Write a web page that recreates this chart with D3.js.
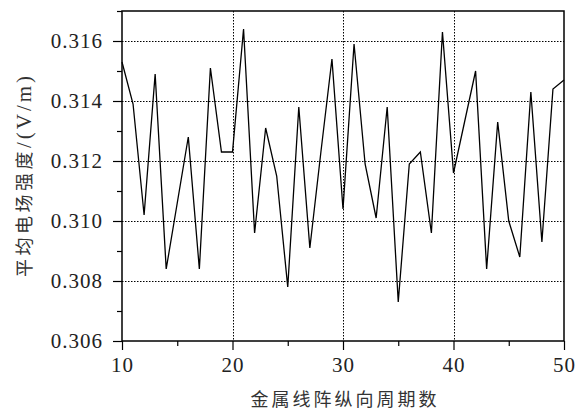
<!DOCTYPE html>
<html>
<head>
<meta charset="utf-8">
<script src="https://cdn.jsdelivr.net/npm/d3@7"></script>
<style>
  body { margin: 0; background: #fff; }
  svg { display: block; }
</style>
</head>
<body>
<script>
// period count along the wire array
var periods = d3.range(10, 51);
// mean electric field (V/m)
var fieldValues = [
  0.3153, 0.3139, 0.3102, 0.3149, 0.3084, 0.3106, 0.3128, 0.3084, 0.3151, 0.3123,
  0.3123, 0.3164, 0.3096, 0.3131, 0.3115, 0.3078, 0.3138, 0.3091, 0.3123, 0.3154,
  0.3104, 0.3159, 0.3119, 0.3101, 0.3138, 0.3073, 0.3119, 0.3123, 0.3096, 0.3163,
  0.3116, 0.3133, 0.3150, 0.3084, 0.3133, 0.3100, 0.3088, 0.3143, 0.3093, 0.3144,
  0.3147
];
var xTicks = [10, 20, 30, 40, 50];
var yTicks = [0.306, 0.308, 0.310, 0.312, 0.314, 0.316];
var xLabel = "金属线阵纵向周期数";
var yLabelCjk = "平均电场强度";
var yLabelUnit = "/(V/m)";

var width = 586, height = 412;
var plotLeft = 122, plotRight = 564, plotTop = 11, plotBottom = 341;

var serif = "'Liberation Serif', 'DejaVu Serif', serif";
var cjk = "'Noto Sans CJK SC', sans-serif";

var svg = d3.select("body").append("svg")
  .attr("width", width)
  .attr("height", height);

var x = d3.scaleLinear().domain([10, 50]).range([plotLeft, plotRight]);
var y = d3.scaleLinear().domain([0.306, 0.317]).range([plotBottom, plotTop]);

// dotted grid
var grid = svg.append("g").attr("class", "grid")
  .attr("stroke", "#000").attr("stroke-width", 1).attr("stroke-dasharray", "1.5,1.5");
grid.selectAll("line.h").data(yTicks.slice(1)).enter().append("line")
  .attr("x1", plotLeft).attr("x2", plotRight)
  .attr("y1", function(d) { return Math.round(y(d)) + 0.5; })
  .attr("y2", function(d) { return Math.round(y(d)) + 0.5; });
grid.selectAll("line.v").data([20, 30, 40]).enter().append("line")
  .attr("y1", plotTop).attr("y2", plotBottom)
  .attr("x1", function(d) { return Math.round(x(d)) + 0.5; })
  .attr("x2", function(d) { return Math.round(x(d)) + 0.5; });

// minor ticks
var yMinor = svg.append("g")
  .attr("transform", "translate(" + plotLeft + ",0)")
  .call(d3.axisLeft(y).tickValues([0.307, 0.309, 0.311, 0.313, 0.315, 0.317]).tickSize(5).tickFormat(""));
var xMinor = svg.append("g")
  .attr("transform", "translate(0," + plotBottom + ")")
  .call(d3.axisBottom(x).tickValues([15, 25, 35, 45]).tickSize(5).tickFormat(""));

// major ticks with labels
var yAxis = svg.append("g")
  .attr("transform", "translate(" + plotLeft + ",0)")
  .call(d3.axisLeft(y).tickValues(yTicks).tickSize(9).tickPadding(10).tickFormat(d3.format(".3f")));
var xAxis = svg.append("g")
  .attr("transform", "translate(0," + plotBottom + ")")
  .call(d3.axisBottom(x).tickValues(xTicks).tickSize(9).tickFormat(d3.format("d")));

[yMinor, xMinor, yAxis, xAxis].forEach(function(g) {
  g.select(".domain").remove();
  g.selectAll(".tick line").attr("stroke", "#000").attr("stroke-width", 1.2);
});
yAxis.attr("font-family", serif).attr("font-size", 21);
yAxis.selectAll(".tick text")
  .attr("letter-spacing", 1)
  .attr("fill", "#222");
xAxis.attr("font-family", serif).attr("font-size", 21);
xAxis.selectAll(".tick text")
  .attr("letter-spacing", 1)
  .attr("fill", "#222")
  .attr("y", 31).attr("dy", 0);

// data line
var line = d3.line()
  .x(function(d, i) { return x(periods[i]); })
  .y(function(d) { return y(d); });
svg.append("path")
  .datum(fieldValues)
  .attr("fill", "none")
  .attr("stroke", "#000")
  .attr("stroke-width", 1.3)
  .attr("d", line);

// frame
svg.append("rect")
  .attr("x", plotLeft).attr("y", plotTop)
  .attr("width", plotRight - plotLeft).attr("height", plotBottom - plotTop)
  .attr("fill", "none").attr("stroke", "#000").attr("stroke-width", 1.5);

// axis titles
svg.append("text")
  .attr("x", (plotLeft + plotRight) / 2 + 2).attr("y", 406)
  .attr("text-anchor", "middle")
  .attr("font-family", cjk).attr("font-size", 18).attr("letter-spacing", 3)
  .attr("fill", "#333")
  .text(xLabel);

var yl = svg.append("text")
  .attr("transform", "translate(31,175) rotate(-90)")
  .attr("text-anchor", "middle")
  .attr("fill", "#333");
yl.append("tspan").attr("font-family", cjk).attr("font-size", 18).attr("letter-spacing", 3.5).text(yLabelCjk);
yl.append("tspan").attr("font-family", serif).attr("font-size", 21).attr("letter-spacing", 3).text(yLabelUnit);
</script>
</body>
</html>
